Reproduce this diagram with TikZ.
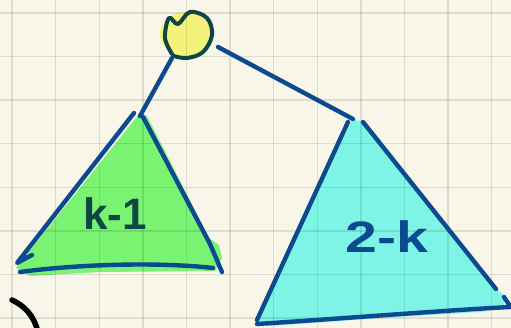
\documentclass[tikz,border=0pt]{standalone}
\usepackage{fontspec}
\setmainfont{Liberation Sans}
\definecolor{paper}{HTML}{F8F5E9}
\definecolor{inkblue}{HTML}{0B4A8F}
\definecolor{inkteal}{HTML}{0E4646}
\definecolor{yfill}{HTML}{F3F27A}
\definecolor{gfill}{HTML}{7AF272}
\definecolor{cfill}{HTML}{7EF4E6}
\begin{document}
\begin{tikzpicture}[x=1pt,y=-1pt,line cap=round,line join=round,
  ink/.style={draw=inkblue,line width=4.4pt},
  gridline/.style={draw=black,opacity=0.1,line width=1.4pt},
  lbl/.style={font=\fontsize{44}{44}\selectfont\bfseries,inner sep=0pt}]
\useasboundingbox (0,0) rectangle (511,328);
\fill[paper] (0,0) rectangle (511,328);
% fills
\fill[yfill] (186,34) ellipse [x radius=26, y radius=22];
\fill[gfill] (140,113) -- (16,268) -- (30,276) -- (100,272) -- (215,271) -- (222,258) -- (219,245) -- (209,238) -- (147,116) -- cycle;
\fill[cfill] (352,120) -- (363,121) -- (495,287) -- (505,297) -- (503,308) -- (480,312) -- (380,318) -- (270,326) -- (255,322) -- cycle;
% grid
\foreach \i in {0,...,11} \draw[gridline] ({12+43.6*\i},0) -- ({12+43.6*\i},328);
\foreach \j in {0,...,7} \draw[gridline] (0,{13+43.6*\j}) -- (511,{13+43.6*\j});
% named points
\coordinate (rootL) at (172,58);
\coordinate (rootR) at (218,47);
\coordinate (gApex) at (140,116);
\coordinate (cApex) at (353,119);
% root circle outline
\draw[draw=inkteal,line width=4pt] plot[smooth,tension=0.6] coordinates {(172,54) (165,38) (169,18) (178,24) (190,12) (207,18) (212,35) (203,52) (187,58) (174,56)};
% connectors
\draw[ink] (rootL) -- (gApex);
\draw[ink] (rootR) -- (cApex);
% green triangle
\draw[ink] (134,113) -- (17,263) -- (32,255);
\draw[ink] (143,117) -- (210,244) -- (222,272);
\draw[ink] (20,272) .. controls (80,264) and (160,262) .. (213,268);
% cyan triangle
\draw[ink] (348,122) -- (257,320);
\draw[ink] (363,122) -- (496,289);
\draw[ink] (504,297) -- (510,306);
\draw[ink] (257,324) .. controls (350,318) and (450,310) .. (510,307);
% black arc
\draw[black,line width=5.5pt] (12,300) .. controls (25,306) and (34,316) .. (38,332);
% labels
\node[lbl,text=inkteal] (lk1) at (115,214) {k-1};
\node[lbl,text=inkblue] (l2k) at (387,237) {\scalebox{1.3}[1]{2-k}};
\end{tikzpicture}
\end{document}
